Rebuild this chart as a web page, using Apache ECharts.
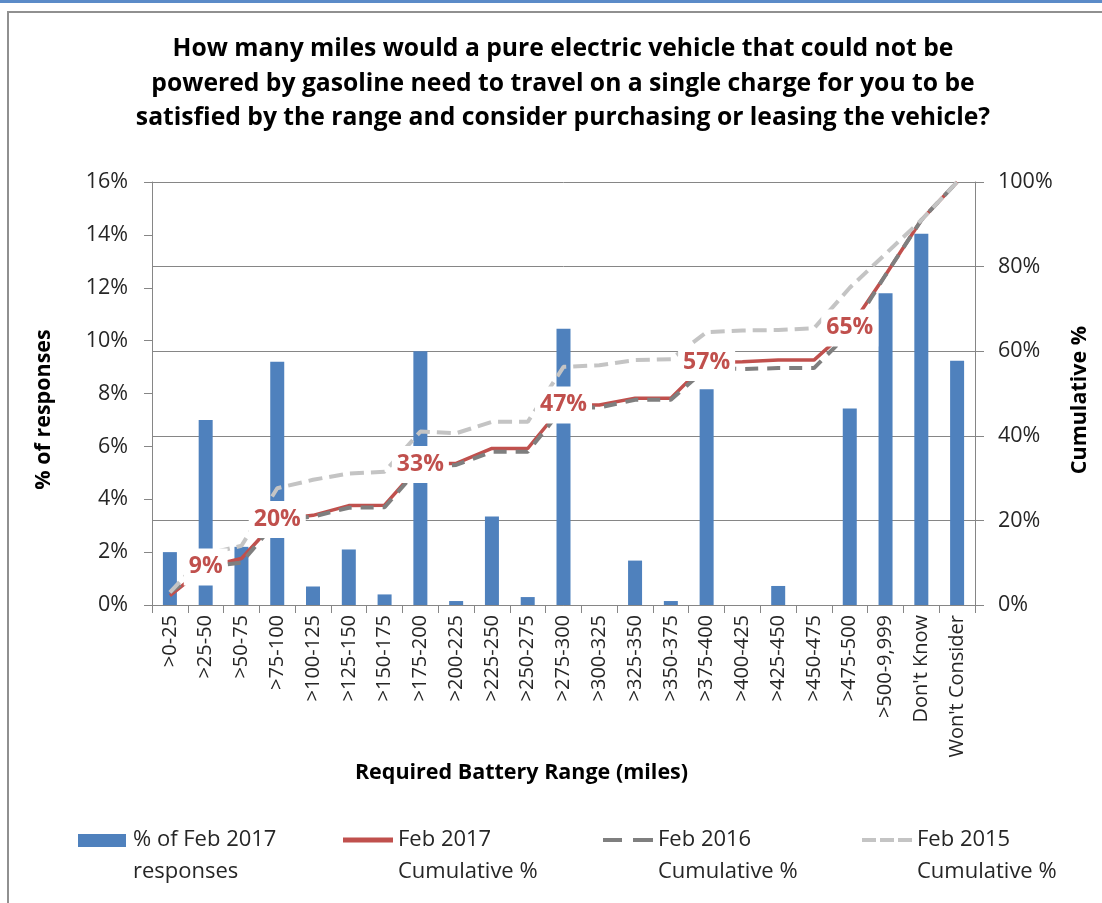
<!DOCTYPE html>
<html>
<head>
<meta charset="utf-8">
<script src="https://cdn.jsdelivr.net/npm/echarts@6/dist/echarts.min.js"></script>
<style>
html,body{margin:0;padding:0;background:#fff;}
#chart{width:1102px;height:903px;}
</style>
</head>
<body>
<div id="chart"></div>
<script>
var categories = ['>0-25','>25-50','>50-75','>75-100','>100-125','>125-150','>150-175','>175-200','>200-225','>225-250','>250-275','>275-300','>300-325','>325-350','>350-375','>375-400','>400-425','>425-450','>450-475','>475-500','>500-9,999',"Don't Know","Won't Consider"];
var responses2017 = [2.0,7.0,2.2,9.2,0.7,2.1,0.4,9.6,0.15,3.35,0.3,10.45,0,1.68,0.15,8.16,0,0.72,0,7.43,11.79,14.04,9.24];
var cum2017 = [2.2,9,11,20.2,21.2,23.5,23.6,33.2,33.5,37,37,47.3,47.3,48.9,48.9,57.3,57.5,57.9,57.9,65.5,78,91,100];
var cum2016 = [3,9,10,20,20.9,23,23.1,32.8,33.1,36.2,36.2,46.8,46.7,48.5,48.5,56,55.8,56,56,64.5,78,91,100];
var cum2015 = [3,12,14,27.6,29.6,31.1,31.5,41,40.6,43.3,43.3,56.3,56.7,57.9,58.1,64.5,64.9,65,65.4,75,83,91,100];
var cumLabels = ['','9%','','20%','','','','33%','','','','47%','','','','57%','','','','65%','','',''];
var leftTicks = {min:0,max:16,interval:2};
var rightTicks = {min:0,max:100,interval:20};

var FONT = '"Open Sans"';
var chart = echarts.init(document.getElementById('chart'));
var axisGrey = '#868686';
var textCol = '#262626';

// legend icon shapes (50 x 44 box, mark centred on first text line)
var pad = ' M0,0h0.1v0.1h-0.1z M49.9,43.9h0.1v0.1h-0.1z';
var iconBar = 'path://M0,0h48v13h-48z' + pad;
var iconSolid = 'path://M0,3.5h50v5h-50z' + pad;
var iconDash = 'path://M0,4h19v4h-19z M30,4h20v4h-20z' + pad;
var iconDot = 'path://M0,4h14v4h-14z M18,4h14v4h-14z M36,4h14v4h-14z' + pad;

function legendCfg(name, left, icon, color){
  return {
    data:[{name:name, icon:icon, itemStyle:{color:color}}], left:left, top:824, padding:0,
    itemWidth:50, itemHeight:44,
    textStyle:{fontFamily:FONT,fontSize:22,color:textCol,lineHeight:32}
  };
}

var option = {
  backgroundColor:'#fff',
  graphic:[
    {type:'rect',shape:{x:0,y:0,width:1102,height:3},style:{fill:'#5B8BC8'},silent:true},
    {type:'rect',shape:{x:8,y:12,width:1110,height:910},style:{fill:'none',stroke:'#909090',lineWidth:2},silent:true}
  ],
  title:{
    text:'How many miles would a pure electric vehicle that could not be\npowered by gasoline need to travel on a single charge for you to be\nsatisfied by the range and consider purchasing or leasing the vehicle?',
    left:563, textAlign:'center', top:32, padding:0,
    textStyle:{fontFamily:FONT,fontSize:24.7,fontWeight:'bold',color:'#000',lineHeight:34.5}
  },
  grid:{left:152,right:127,top:182,bottom:298},
  legend:[
    legendCfg('% of Feb 2017\nresponses',78,iconBar,'#4F81BD'),
    legendCfg('Feb 2017\nCumulative %',343,iconSolid,'#C0504D'),
    legendCfg('Feb 2016\nCumulative %',603,iconDash,'#7F7F7F'),
    legendCfg('Feb 2015\nCumulative %',862,iconDot,'#C4C4C4')
  ],
  xAxis:{
    type:'category', data:categories,
    axisLine:{lineStyle:{color:axisGrey,width:1}},
    axisTick:{show:true,length:8,lineStyle:{color:axisGrey}},
    axisLabel:{rotate:90,interval:0,margin:10,fontFamily:FONT,fontSize:20,color:textCol},
    name:'Required Battery Range (miles)', nameLocation:'middle', nameGap:148,
    nameTextStyle:{fontFamily:FONT,fontSize:21.5,fontWeight:'bold',color:'#000',padding:[0,84,0,0]}
  },
  yAxis:[
    {type:'value',min:leftTicks.min,max:leftTicks.max,interval:leftTicks.interval,position:'left',
     axisLine:{show:true,lineStyle:{color:axisGrey}},
     axisTick:{show:true,length:8,lineStyle:{color:axisGrey}},
     splitLine:{show:false},
     axisLabel:{formatter:'{value}%',margin:24,fontFamily:FONT,fontSize:21.5,color:textCol},
     name:'% of responses',nameLocation:'middle',nameRotate:90,nameGap:97,
     nameTextStyle:{fontFamily:FONT,fontSize:21.5,fontWeight:'bold',color:'#000',padding:[0,32,0,0]}
    },
    {type:'value',min:rightTicks.min,max:rightTicks.max,interval:rightTicks.interval,position:'right',
     axisLine:{show:true,lineStyle:{color:axisGrey}},
     axisTick:{show:true,length:9,lineStyle:{color:axisGrey}},
     splitLine:{show:true,lineStyle:{color:axisGrey,width:1}},
     axisLabel:{formatter:'{value}%',margin:23,fontFamily:FONT,fontSize:21.5,color:textCol},
     name:'Cumulative %',nameLocation:'middle',nameRotate:90,nameGap:94,
     nameTextStyle:{fontFamily:FONT,fontSize:21.5,fontWeight:'bold',color:'#000',padding:[0,13,0,0]}
    }
  ],
  series:[
    {name:'% of Feb 2017\nresponses',type:'bar',yAxisIndex:0,data:responses2017,barWidth:14,
     itemStyle:{color:'#4F81BD'},z:2},
    {name:'Feb 2017\nCumulative %',type:'line',yAxisIndex:1,data:cum2017,symbol:'none',
     lineStyle:{color:'#C0504D',width:3.5},itemStyle:{color:'#C0504D'},z:3},
    {name:'Feb 2016\nCumulative %',type:'line',yAxisIndex:1,data:cum2016,symbol:'none',
     lineStyle:{color:'#7F7F7F',width:4,type:[13,9]},itemStyle:{color:'#7F7F7F'},z:3},
    {name:'Feb 2015\nCumulative %',type:'line',yAxisIndex:1,data:cum2015,symbol:'none',
     lineStyle:{color:'#C4C4C4',width:4,type:[14,7]},itemStyle:{color:'#C4C4C4'},z:3},
    {name:'labels',type:'scatter',yAxisIndex:1,symbolSize:1,z:10,silent:true,
     itemStyle:{color:'rgba(0,0,0,0)',opacity:1},
     data:cum2017.map(function(v,i){return cumLabels[i]?v:'-';}),
     label:{show:true,position:'inside',formatter:function(p){return cumLabels[p.dataIndex];},
       fontFamily:FONT,fontSize:23,fontWeight:'bold',color:'#C0504D',backgroundColor:'#fff',
       padding:[7,5],lineHeight:23,opacity:1}
    }
  ]
};
chart.setOption(option);
</script>
</body>
</html>
